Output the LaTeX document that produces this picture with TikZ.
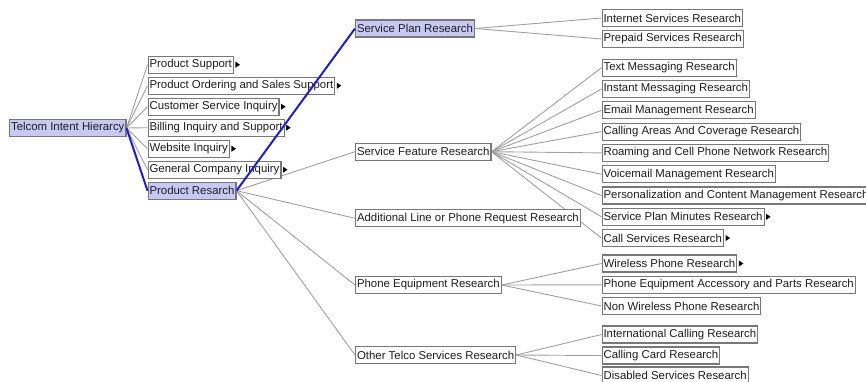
\documentclass[tikz,border=0pt]{standalone}
\usepackage{fontspec}
\setmainfont{Liberation Sans}
\usetikzlibrary{backgrounds}
\definecolor{hl}{RGB}{200,200,245}
\definecolor{bord}{RGB}{120,120,120}
\definecolor{edg}{RGB}{160,160,160}
\definecolor{sel}{RGB}{30,30,210}
\definecolor{txt}{RGB}{30,30,30}
\tikzset{
  box/.style={draw=bord, line width=1.1pt, fill=white, anchor=west, inner xsep=1.5pt, inner ysep=0pt,
    minimum height=17pt, text=txt, font=\fontsize{11.4}{13}\selectfont},
  hbox/.style={box, fill=hl},
  link/.style={draw=edg, line width=0.9pt},
  sellink/.style={draw=sel, line width=2pt},
}
\newcommand{\expandtri}[1]{\fill ([xshift=1.5pt,yshift=3pt]#1.east) -- ([xshift=6pt]#1.east) -- ([xshift=1.5pt,yshift=-3pt]#1.east) -- cycle;}
\begin{document}
\begin{tikzpicture}[x=1pt,y=-1pt]
\useasboundingbox (0,0) rectangle (866,381);
% root
\node[hbox] (root) at (9,128) {Telcom Intent Hierarcy};
% level 1
\node[box] (ps) at (147.5,64.7) {Product Support};
\node[box] (pos) at (147.5,85.7) {Product Ordering and Sales Support};
\node[box] (csi) at (147.5,106.7) {Customer Service Inquiry};
\node[box] (bis) at (147.5,127.7) {Billing Inquiry and Support};
\node[box] (wi) at (147.5,148.7) {Website Inquiry};
\node[box] (gci) at (147.5,169.7) {General Company Inquiry};
\node[hbox] (pr) at (147.5,190.7) {Product Resarch};
% level 2
\node[hbox] (spr) at (355,28.5) {Service Plan Research};
\node[box] (sfr) at (355,151.7) {Service Feature Research};
\node[box] (alr) at (355,218.3) {Additional Line or Phone Request Research};
\node[box] (per) at (355,285) {Phone Equipment Research};
\node[box] (otr) at (355,355) {Other Telco Services Research};
% level 3
\node[box] (isr) at (601.5,18) {Internet Services Research};
\node[box] (psr) at (601.5,39) {Prepaid Services Research};
\node[box] (tmr) at (601.5,67.7) {Text Messaging Research};
\node[box] (imr) at (601.5,89) {Instant Messaging Research};
\node[box] (emr) at (601.5,110.3) {Email Management Research};
\node[box] (cac) at (601.5,131.6) {Calling Areas And Coverage Research};
\node[box] (rcp) at (601.5,152.9) {Roaming and Cell Phone Network Research};
\node[box] (vmr) at (601.5,174.2) {Voicemail Management Research};
\node[box] (pcm) at (601.5,195.5) {Personalization and Content Management Research};
\node[box] (spm) at (601.5,216.8) {Service Plan Minutes Research};
\node[box] (csr) at (601.5,238.1) {Call Services Research};
\node[box] (wpr) at (601.5,263.5) {Wireless Phone Research};
\node[box] (pea) at (601.5,284.8) {Phone Equipment Accessory and Parts Research};
\node[box] (nwp) at (601.5,306) {Non Wireless Phone Research};
\node[box] (icr) at (601.5,334.5) {International Calling Research};
\node[box] (ccr) at (601.5,355.5) {Calling Card Research};
\node[box] (dsr) at (601.5,375.5) {Disabled Services Research};
% expand triangles
\expandtri{ps}\expandtri{pos}\expandtri{csi}\expandtri{bis}\expandtri{wi}\expandtri{gci}
\expandtri{spm}\expandtri{csr}\expandtri{wpr}
\begin{scope}[on background layer]
\foreach \c in {ps,pos,csi,bis,wi,gci} \draw[link] (root.east) -- (\c.west);
\foreach \c in {sfr,alr,per,otr} \draw[link] (pr.east) -- (\c.west);
\foreach \c in {isr,psr} \draw[link] (spr.east) -- (\c.west);
\foreach \c in {tmr,imr,emr,cac,rcp,vmr,pcm,spm,csr} \draw[link] (sfr.east) -- (\c.west);
\foreach \c in {wpr,pea,nwp} \draw[link] (per.east) -- (\c.west);
\foreach \c in {icr,ccr,dsr} \draw[link] (otr.east) -- (\c.west);
\end{scope}
\draw[sellink] (root.east) -- (pr.west);
\draw[sellink] (pr.east) -- (spr.west);
\end{tikzpicture}
\end{document}
